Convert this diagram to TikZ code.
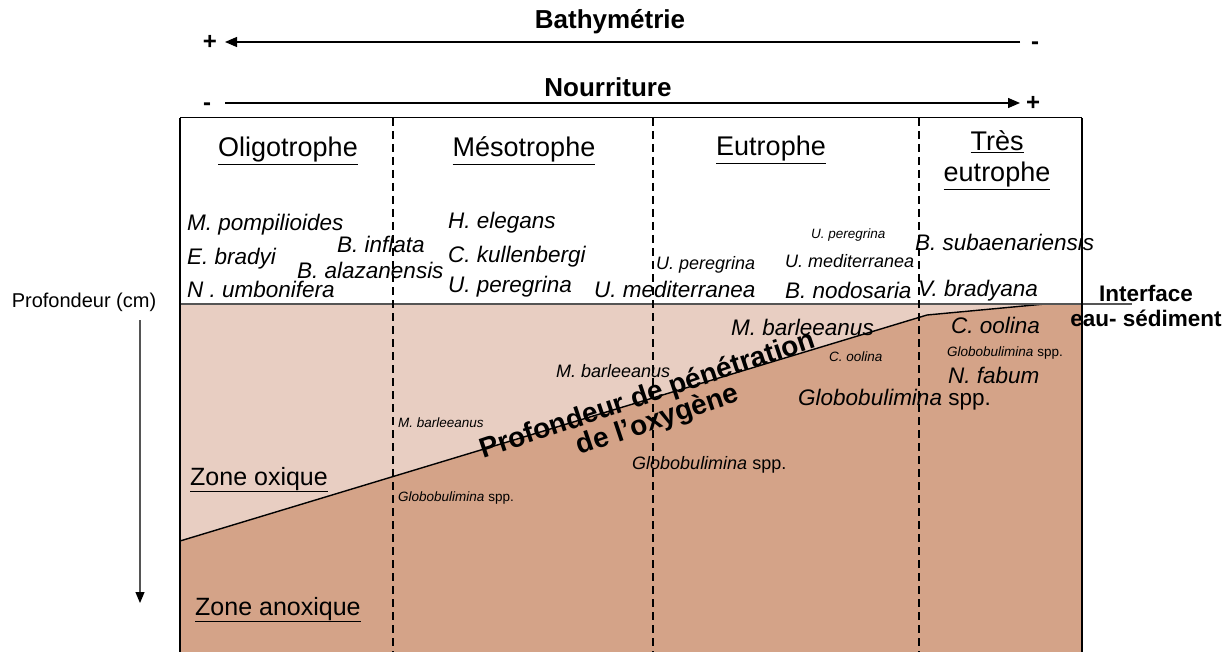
\documentclass[tikz,border=0pt]{standalone}
\usepackage{fontspec}
\setmainfont{Liberation Sans}
\usetikzlibrary{arrows.meta}
\definecolor{oxic}{HTML}{E8CEC2}
\definecolor{anoxic}{HTML}{D4A388}
\definecolor{ifgray}{HTML}{555555}
\begin{document}
\begin{tikzpicture}[x=1pt,y=-1pt,
  lbl/.style={inner sep=0pt, anchor=base west},
  sp/.style={lbl, font=\fontsize{22.5}{24}\selectfont\itshape},
  spm/.style={lbl, font=\fontsize{18}{20}\selectfont\itshape},
  sps/.style={lbl, font=\fontsize{13.5}{15}\selectfont\itshape},
  hdr/.style={inner sep=0pt, anchor=base, font=\fontsize{27}{29}\selectfont},
  zone/.style={lbl, font=\fontsize{25}{27}\selectfont},
  ttl/.style={inner sep=0pt, anchor=base, font=\fontsize{26}{28}\selectfont\bfseries},
  pm/.style={inner sep=0pt, anchor=base, font=\fontsize{24}{26}\selectfont\bfseries},
  scalearrow/.style={line width=1.3pt, -{Triangle[length=12pt,width=10pt]}},
  divider/.style={dash pattern=on 8pt off 5pt, line width=1.1pt},
  oxytext/.style={inner sep=0pt, rotate=18.5, font=\fontsize{28}{30}\selectfont\bfseries},
  iface/.style={inner sep=0pt, anchor=base, font=\fontsize{22.5}{24}\selectfont\bfseries},
]
\useasboundingbox (0,0) rectangle (1230,652);

% ---------- coordinates ----------
\coordinate (tl) at (180,118);
\coordinate (tr) at (1082,118);
\coordinate (bl) at (180,652);
\coordinate (br) at (1082,652);
\coordinate (il) at (180,304);
\coordinate (ir) at (1082,304);
\coordinate (iend) at (1132,304);
\coordinate (o1) at (180,541);
\coordinate (o2) at (927,315);
\coordinate (o3) at (1045,304);

% ---------- fills ----------
\fill[oxic] (il) -- (o3) -- (o2) -- (o1) -- cycle;
\fill[anoxic] (o1) -- (o2) -- (o3) -- (ir) -- (br) -- (bl) -- cycle;

% ---------- oxygen line & interface ----------
\draw[line width=1.4pt] (o1) -- (o2) -- (o3);
\draw[ifgray, line width=1.5pt] (il) -- (iend);

% ---------- frame ----------
\draw[line width=1.5pt] (bl) -- (tl);
\draw[line width=1pt] (tl) -- (tr);
\draw[line width=1.5pt] (tr) -- (br);

% ---------- dashed dividers ----------
\foreach \xx/\nm in {393/d1, 653/d2, 919/d3}{
  \coordinate (\nm t) at (\xx,118);
  \coordinate (\nm b) at (\xx,652);
  \draw[divider] (\nm t) -- (\nm b);
}

% ---------- top scales ----------
\node[ttl] (bathy) at (610,29) {Bathymétrie};
\node[pm] (bplus) at (210,50) {+};
\node[pm] (bminus) at (1035,50) {-};
\coordinate (ba1) at (1020,42);
\coordinate (ba2) at (225,42);
\draw[scalearrow] (ba1) -- (ba2);

\node[ttl] (nour) at (608,97) {Nourriture};
\node[pm] (nminus) at (207,111) {-};
\node[pm] (nplus) at (1033,111) {+};
\coordinate (na1) at (225,103);
\coordinate (na2) at (1020,103);
\draw[scalearrow] (na1) -- (na2);

% ---------- column headers ----------
\node[hdr] (h1) at (288,157) {\underline{Oligotrophe}};
\node[hdr] (h2) at (524,157) {\underline{Mésotrophe}};
\node[hdr] (h3) at (771,156) {\underline{Eutrophe}};
\node[hdr] (h4a) at (997,151) {\underline{Très}};
\node[hdr] (h4b) at (997,182) {\underline{eutrophe}};

% ---------- species above interface ----------
\node[sp] (s1) at (187,230) {M. pompilioides};
\node[sp] (s2) at (187,264) {E. bradyi};
\node[sp] (s3) at (187,297) {N . umbonifera};
\node[sp] (s4) at (337,252) {B. inflata};
\node[sp] (s5) at (297,278) {B. alazanensis};
\node[sp] (s6) at (448,229) {H. elegans};
\node[sp] (s7) at (448,262) {C. kullenbergi};
\node[sp] (s8) at (448,292) {U. peregrina};
\node[sp] (s9) at (594,297) {U. mediterranea};
\node[spm] (s10) at (656,269) {U. peregrina};
\node[sps] (s11) at (811,239) {U. peregrina};
\node[spm] (s12) at (785,267) {U. mediterranea};
\node[sp] (s13) at (785,298) {B. nodosaria};
\node[sp] (s14) at (915,251) {B. subaenariensis};
\node[sp] (s15) at (918,296) {V. bradyana};

% ---------- species below interface ----------
\node[sp] (b1) at (731,335) {M. barleeanus};
\node[sps] (b2) at (829,361) {C. oolina};
\node[spm] (b3) at (556,377) {M. barleeanus};
\node[sps] (b4) at (398,427) {M. barleeanus};
\node[spm] (b5) at (632,469) {Globobulimina \upshape spp.};
\node[sps] (b6) at (398,501) {Globobulimina \upshape spp.};
\node[sp] (b7) at (951,333) {C. oolina};
\node[sps] (b8) at (947,356) {Globobulimina \upshape spp.};
\node[sp] (b9) at (948,383) {N. fabum};
\node[sp] (b10) at (798,405) {Globobulimina \upshape spp.};

% ---------- oxygen penetration label ----------
\node[oxytext] (pen1) at (648,396) {Profondeur de pénétration};
\node[oxytext] (pen2) at (658,421) {de l’oxygène};

% ---------- zones ----------
\node[zone] (zox) at (190,485) {\underline{Zone oxique}};
\node[zone] (zan) at (195,615) {\underline{Zone anoxique}};

% ---------- depth axis ----------
\node[inner sep=0pt, anchor=base, font=\fontsize{20}{22}\selectfont] (depth) at (84,307) {Profondeur (cm)};
\coordinate (da1) at (140,320);
\coordinate (da2) at (140,603);
\draw[ifgray, line width=1.2pt, -{Triangle[length=11pt,width=9pt,color=black,fill=black]}] (da1) -- (da2);

% ---------- interface label ----------
\node[iface] (if1) at (1146,301) {Interface};
\node[iface] (if2) at (1146,326) {eau- sédiment};
\end{tikzpicture}
\end{document}
